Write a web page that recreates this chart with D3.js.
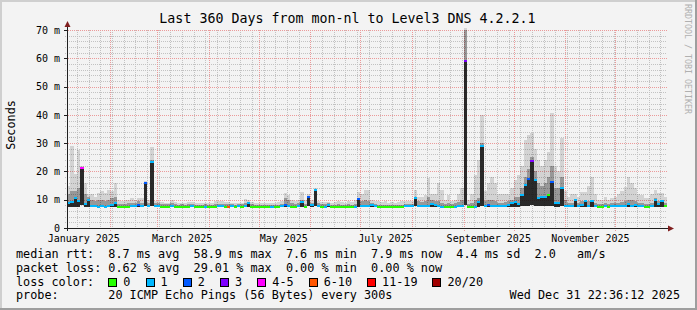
<!DOCTYPE html>
<html>
<head>
<meta charset="utf-8">
<script src="https://cdn.jsdelivr.net/npm/d3@7"></script>
<style>
  body { margin: 0; background: #f3f3f3; }
  svg { display: block; font-family: "DejaVu Sans Mono", monospace; }
  text { white-space: pre; }
</style>
</head>
<body>
<svg width="697" height="310"></svg>
<script>
// graph ends at this moment, covers 360 days, one value per 2 days
const endTime = new Date(Date.UTC(2025, 11, 31, 22, 36, 12));
const spanDays = 360;
const binDays = 2;

// median round trip (ms)
const medianMs = [
  9.0, 9.3, 10.6, 9.5, 21.2, 8.4, 9.8, 7.7, 7.8, 7.6,
  7.7, 7.6, 7.8, 8.0, 9.0, 7.4, 7.4, 7.5, 7.5, 7.7,
  7.7, 8.3, 7.8, 16.0, 7.8, 23.3, 7.7, 7.7, 7.5, 7.5,
  7.5, 7.7, 7.5, 7.5, 7.5, 7.5, 7.5, 7.7, 7.5, 7.5,
  7.5, 7.6, 7.5, 7.5, 7.5, 7.7, 7.7, 7.6, 7.6, 7.7,
  7.5, 7.7, 7.5, 7.8, 9.0, 7.5, 7.5, 7.5, 7.5, 7.5,
  7.5, 7.6, 7.5, 7.5, 7.7, 8.0, 7.8, 7.6, 7.5, 7.7,
  9.3, 7.6, 11.0, 8.0, 13.4, 7.7, 7.5, 7.6, 8.3, 7.5,
  7.5, 7.5, 7.5, 7.5, 7.5, 7.5, 7.6, 10.4, 7.8, 7.8,
  7.7, 8.1, 7.7, 7.5, 7.5, 7.5, 7.5, 7.5, 7.5, 7.5,
  7.5, 7.7, 7.7, 7.7, 10.5, 7.7, 7.7, 7.8, 7.9, 8.5,
  8.2, 7.8, 7.6, 7.5, 7.5, 7.5, 7.6, 7.7, 7.8, 58.9,
  7.5, 7.5, 7.6, 9.2, 29.0, 7.7, 8.0, 7.8, 7.7, 7.7,
  7.7, 7.8, 8.2, 8.8, 9.3, 8.5, 11.7, 15.2, 17.4, 23.7,
  17.0, 10.6, 10.8, 11.0, 11.7, 16.4, 8.8, 8.8, 14.0, 7.8,
  7.8, 7.7, 9.9, 7.7, 8.0, 9.6, 7.8, 9.5, 7.7, 7.5,
  7.5, 7.7, 7.5, 7.7, 7.7, 7.7, 7.8, 7.7, 8.5, 7.8,
  8.2, 7.7, 7.7, 7.5, 7.5, 7.7, 9.9, 8.5, 9.5, 7.8
];

// lost pings out of 20
const lossCount = [
  1, 1, 1, 1, 5, 1, 1, 1, 1, 1,
  1, 1, 1, 1, 1, 0, 0, 0, 0, 1,
  1, 2, 1, 2, 1, 1, 1, 1, 0, 0,
  0, 1, 0, 0, 0, 0, 0, 1, 0, 0,
  0, 1, 0, 0, 0, 1, 1, 0, 7, 1,
  0, 1, 0, 1, 1, 0, 0, 0, 0, 0,
  0, 1, 0, 0, 1, 2, 1, 0, 0, 1,
  1, 0, 2, 1, 1, 1, 0, 1, 1, 0,
  0, 0, 0, 0, 0, 0, 1, 2, 1, 1,
  1, 1, 1, 0, 0, 0, 0, 0, 0, 0,
  0, 1, 1, 1, 1, 1, 1, 1, 1, 1,
  1, 1, 1, 0, 0, 0, 1, 1, 1, 3,
  0, 0, 1, 1, 1, 1, 2, 1, 1, 1,
  1, 1, 1, 1, 1, 1, 1, 1, 2, 3,
  1, 1, 1, 1, 0, 2, 1, 1, 1, 1,
  1, 1, 1, 1, 1, 1, 1, 1, 1, 0,
  0, 1, 0, 1, 1, 1, 1, 1, 1, 1,
  1, 1, 1, 0, 0, 1, 1, 1, 1, 0
];

// fastest ping (ms)
const pingMin = [
  7.5, 7.5, 7.6, 7.6, 8.0, 7.4, 7.5, 7.3, 7.3, 7.3,
  7.3, 7.3, 7.3, 7.4, 7.5, 7.2, 7.2, 7.3, 7.3, 7.3,
  7.3, 7.5, 7.4, 7.8, 7.4, 7.8, 7.3, 7.3, 7.3, 7.3,
  7.3, 7.3, 7.3, 7.3, 7.3, 7.3, 7.3, 7.3, 7.3, 7.3,
  7.3, 7.3, 7.3, 7.3, 7.3, 7.3, 7.3, 7.3, 7.3, 7.3,
  7.3, 7.3, 7.3, 7.4, 7.5, 7.3, 7.3, 7.3, 7.3, 7.3,
  7.3, 7.3, 7.3, 7.3, 7.3, 7.5, 7.4, 7.3, 7.3, 7.3,
  7.5, 7.3, 7.7, 7.5, 7.8, 7.3, 7.3, 7.3, 7.5, 7.3,
  7.3, 7.3, 7.3, 7.3, 7.3, 7.3, 7.3, 7.6, 7.4, 7.4,
  7.4, 7.5, 7.3, 7.3, 7.3, 7.3, 7.3, 7.3, 7.3, 7.3,
  7.3, 7.3, 7.3, 7.3, 7.7, 7.4, 7.4, 7.4, 7.5, 7.6,
  7.5, 7.4, 7.3, 7.3, 7.3, 7.3, 7.3, 7.4, 7.5, 8.0,
  7.3, 7.3, 7.4, 7.5, 7.8, 7.4, 7.5, 7.4, 7.4, 7.4,
  7.4, 7.4, 7.5, 7.6, 7.6, 7.6, 7.7, 7.8, 7.9, 8.0,
  7.9, 7.8, 7.8, 7.8, 7.8, 7.9, 7.6, 7.6, 7.8, 7.4,
  7.4, 7.4, 7.5, 7.4, 7.4, 7.5, 7.4, 7.5, 7.4, 7.3,
  7.3, 7.3, 7.3, 7.3, 7.3, 7.4, 7.4, 7.4, 7.5, 7.4,
  7.4, 7.3, 7.3, 7.3, 7.3, 7.4, 7.6, 7.5, 7.6, 7.4
];

// upper edge of the dense smoke (ms)
const smokeMid = [
  12, 13, 13, 14, 21.5, 12, 11, 10, 9.5, 10,
  10, 9.5, 10, 10.5, 11, 8.5, 8.5, 8.5, 8.8, 9,
  9, 9.5, 9, 16.2, 9, 24, 8.8, 8.8, 8.5, 8.5,
  8.4, 8.8, 8.4, 8.3, 8.4, 8.3, 8.4, 8.6, 8.3, 8.3,
  8.3, 8.4, 8.3, 8.3, 8.5, 8.6, 8.6, 8.5, 8.5, 8.4,
  8.3, 8.5, 8.4, 8.8, 9.3, 8.4, 8.3, 8.3, 8.2, 8.2,
  8.2, 8.3, 8.2, 8.3, 8.6, 10.5, 10, 9, 8.5, 8.8,
  9.8, 8.5, 11.3, 9, 13.6, 8.8, 8.4, 8.5, 8.8, 8.3,
  8.3, 8.4, 8.3, 8.3, 8.4, 8.3, 8.6, 10.6, 9.5, 10,
  9.5, 9, 8.6, 8.3, 8.3, 8.3, 8.2, 8.3, 8.2, 8.3,
  8.3, 8.5, 8.6, 8.6, 10.8, 9.5, 9.2, 9.4, 11, 10,
  9.6, 9.5, 9, 8.6, 8.8, 8.5, 8.8, 9.2, 10, 70,
  8.5, 9, 10, 10.5, 30, 9.5, 10, 10, 9.5, 9,
  9, 9.2, 9.5, 10, 11, 11, 14, 18, 21, 25,
  20, 16, 15, 16, 18, 22, 14, 14, 18, 10,
  9, 9, 10.2, 9, 9.5, 10, 9.5, 10, 9, 8.5,
  8.5, 8.8, 8.5, 8.7, 8.8, 9, 9.2, 9.5, 10, 9.8,
  9.5, 9, 9, 8.6, 8.6, 9, 10.5, 9.5, 10, 9
];

// slowest ping (ms), top of the light smoke
const smokeMax = [
  15, 29, 19, 27.5, 22, 16, 12, 12, 11, 12.5,
  13, 12.5, 13.5, 13, 16, 10, 9.5, 10, 9.8, 10.5,
  10, 10.5, 10.5, 16.5, 10, 28.6, 9.5, 9.5, 9.2, 9,
  9, 9.8, 9.2, 8.8, 9, 8.8, 9.2, 9.3, 8.8, 8.8,
  9, 9, 8.8, 8.8, 9.6, 9.6, 9.4, 9.2, 9.2, 9,
  8.8, 9, 9, 10.2, 9.8, 9.2, 9, 9, 8.8, 8.8,
  8.8, 9, 8.8, 9.2, 9.6, 12.2, 11.5, 10, 9.5, 10,
  12.8, 9.8, 12, 10, 14, 9.6, 9.2, 9.2, 9.3, 9,
  9.2, 9.6, 9.2, 9, 9.4, 9.2, 9.8, 12.8, 12, 13.4,
  13.4, 10, 9.6, 9.4, 9.2, 9.4, 9, 9.2, 9, 9.2,
  9.4, 9.4, 9.6, 9.6, 13.4, 11, 11, 11.5, 17.7, 12,
  12, 15.9, 13.4, 10, 11.5, 9.6, 10, 12, 14, 72,
  10, 12, 18.7, 24, 40, 13, 16, 18, 16, 12,
  12, 12, 12, 14, 17, 18.7, 22, 31, 33, 33.5,
  28, 24, 22, 24, 27, 40.6, 22, 20, 31.7, 13,
  11, 12, 12, 11, 12.7, 12.7, 15, 18, 12, 10,
  10, 11, 10, 10.5, 11, 12, 13, 14.5, 18, 16,
  14, 12, 11.5, 10.5, 10.5, 12, 13.4, 12.5, 12.5, 11
];

const lossLabels = ["0", "1", "2", "3", "4-5", "6-10", "11-19", "20/20"];
const lossUpper = [0, 1, 2, 3, 5, 10, 19, 20];
const lossColors = ["#26ff00", "#00b8ff", "#0059ff", "#7e00ff", "#ff00ff", "#ff5500", "#ff0000", "#a00000"];

const yTicks = [0, 10, 20, 30, 40, 50, 60, 70];

const title = "Last 360 Days from mon-nl to Level3 DNS 4.2.2.1";
const rttLine = "median rtt:  8.7 ms avg  58.9 ms max  7.6 ms min  7.9 ms now  4.4 ms sd  2.0   am/s";
const lossLine = "packet loss: 0.62 % avg  29.01 % max  0.00 % min  0.00 % now";
const probeText = "20 ICMP Echo Pings (56 Bytes) every 300s";
const stampText = "Wed Dec 31 22:36:12 2025";

const svg = d3.select("svg");
const W = 697, H = 310;
const plotL = 67, plotR = 667, plotT = 30, plotB = 228;
const charW = 7.1;

const startTime = d3.utcDay.offset(endTime, -spanDays);
const x = d3.scaleUtc().domain([startTime, endTime]).range([plotL, plotR]);
const y = d3.scaleLinear().domain([0, 70]).range([plotB, plotT]);

// frame
svg.append("rect").attr("width", W).attr("height", H).attr("fill", "#f3f3f3");
svg.append("rect").attr("x", 0).attr("y", 0).attr("width", W).attr("height", 2).attr("fill", "#cfcfcf");
svg.append("rect").attr("x", 0).attr("y", 0).attr("width", 2).attr("height", H).attr("fill", "#cfcfcf");
svg.append("rect").attr("x", 0).attr("y", H - 2).attr("width", W).attr("height", 2).attr("fill", "#9e9e9e");
svg.append("rect").attr("x", W - 2).attr("y", 0).attr("width", 2).attr("height", H).attr("fill", "#9e9e9e");

// grid
const grid = svg.append("g").attr("shape-rendering", "crispEdges").attr("stroke-dasharray", "1,1");
const minorY = y.ticks(35).filter(v => v % 10 !== 0);
const weeks = d3.utcSunday.range(startTime, endTime);
const months = d3.utcMonth.range(startTime, endTime);

grid.selectAll(".hmin").data(minorY).join("line")
  .attr("x1", plotL - 2).attr("x2", plotR)
  .attr("y1", d => Math.round(y(d)) + 0.5).attr("y2", d => Math.round(y(d)) + 0.5)
  .attr("stroke", "#c2c2c2");
grid.selectAll(".vmin").data(weeks).join("line")
  .attr("x1", d => Math.round(x(d)) + 0.5).attr("x2", d => Math.round(x(d)) + 0.5)
  .attr("y1", plotT).attr("y2", plotB + 2)
  .attr("stroke", "#c2c2c2");
grid.selectAll(".hmaj").data(yTicks.slice(1)).join("line")
  .attr("x1", plotL - 3).attr("x2", plotR)
  .attr("y1", d => Math.round(y(d)) + 0.5).attr("y2", d => Math.round(y(d)) + 0.5)
  .attr("stroke", "#eb9a9a");
grid.selectAll(".vmaj").data(months).join("line")
  .attr("x1", d => Math.round(x(d)) + 0.5).attr("x2", d => Math.round(x(d)) + 0.5)
  .attr("y1", plotT).attr("y2", plotB + 3)
  .attr("stroke", "#eb9a9a");

// bins
const bins = medianMs.map((m, i) => ({
  t0: d3.utcDay.offset(startTime, i * binDays),
  t1: d3.utcDay.offset(startTime, (i + 1) * binDays),
  med: m, loss: lossCount[i], lo: pingMin[i], mid: smokeMid[i], hi: smokeMax[i]
}));

const plot = svg.append("g").attr("shape-rendering", "crispEdges");
plot.append("clipPath").attr("id", "clip").append("rect")
  .attr("x", plotL).attr("y", plotT - 2).attr("width", plotR - plotL).attr("height", plotB - plotT + 2);
const smoke = plot.append("g").attr("clip-path", "url(#clip)");

const bx = d => x(d.t0), bw = d => x(d.t1) - x(d.t0);

smoke.selectAll(".light").data(bins).join("rect")
  .attr("x", bx).attr("width", bw)
  .attr("y", d => y(d.hi)).attr("height", d => y(d.lo) - y(d.hi))
  .attr("fill", "rgba(0,0,0,0.13)");
smoke.selectAll(".mid").data(bins).join("rect")
  .attr("x", bx).attr("width", bw)
  .attr("y", d => y(d.mid)).attr("height", d => y(d.lo) - y(d.mid))
  .attr("fill", "rgba(0,0,0,0.28)");
smoke.selectAll(".dark").data(bins).join("rect")
  .attr("x", bx).attr("width", bw)
  .attr("y", d => y(d.med)).attr("height", d => y(d.lo) - y(d.med))
  .attr("fill", "rgba(15,15,15,0.8)");

const lossColor = n => lossColors[lossUpper.findIndex(u => n <= u)];

smoke.selectAll(".median").data(bins).join("line")
  .attr("x1", bx).attr("x2", d => x(d.t1))
  .attr("y1", d => y(d.med)).attr("y2", d => y(d.med))
  .attr("stroke", d => lossColor(d.loss))
  .attr("stroke-width", 2);

// y axis labels and ticks
svg.append("g")
  .attr("transform", `translate(${plotL},0)`)
  .call(d3.axisLeft(y).tickValues(yTicks).tickSize(3).tickPadding(4)
    .tickFormat(d => d === 0 ? "0" : d + " m"))
  .call(g => g.select(".domain").remove())
  .call(g => g.selectAll("line").attr("stroke", "#1f1f1f").attr("shape-rendering", "crispEdges"))
  .call(g => g.selectAll("text").attr("font-family", "DejaVu Sans Mono").attr("font-size", 10).attr("fill", "#000"));

// x labels: every second month, centred half a month after its start
const labelMonths = d3.utcMonth.range(d3.utcMonth.floor(startTime), endTime, 2);
svg.append("g").selectAll("text").data(labelMonths).join("text")
  .attr("x", d => x(d3.utcDay.offset(d, 15)))
  .attr("y", 241.5)
  .attr("text-anchor", "middle")
  .attr("font-size", 10)
  .text(d => d3.utcFormat("%B %Y")(d));

// axes with arrows
const axis = svg.append("g");
axis.append("line").attr("x1", plotL - 3).attr("x2", plotR + 3)
  .attr("y1", plotB + 0.5).attr("y2", plotB + 0.5).attr("stroke", "#1f1f1f");
axis.append("line").attr("x1", plotL + 0.5).attr("x2", plotL + 0.5)
  .attr("y1", plotB + 3).attr("y2", plotT - 5).attr("stroke", "#1f1f1f");
axis.append("path").attr("d", `M${plotR + 7},${plotB + 0.5} L${plotR + 1},${plotB - 2.5} L${plotR + 1},${plotB + 3.5} Z`)
  .attr("fill", "#801f1f");
axis.append("path").attr("d", `M${plotL + 0.5},${plotT - 9} L${plotL - 2.5},${plotT - 3} L${plotL + 3.5},${plotT - 3} Z`)
  .attr("fill", "#801f1f");

// title, vertical label, watermark
svg.append("text").attr("x", 347.5).attr("y", 23).attr("text-anchor", "middle")
  .attr("font-size", 13.3).text(title);
svg.append("text").attr("transform", "translate(14.5,125) rotate(-90)")
  .attr("text-anchor", "middle").attr("font-size", 11.8).text("Seconds");
svg.append("text").attr("transform", "translate(685,59) rotate(90)")
  .attr("text-anchor", "middle").attr("font-size", 8.3).attr("fill", "#b0b0b0")
  .text("RRDTOOL / TOBI OETIKER");

// legend
const legend = svg.append("g").attr("font-size", 11.8);
legend.append("text").attr("x", 16).attr("y", 258).text(rttLine);
legend.append("text").attr("x", 16).attr("y", 271.8).text(lossLine);
legend.append("text").attr("x", 16).attr("y", 285.6).text("loss color:");
legend.append("text").attr("x", 16).attr("y", 299.4).text("probe:");
legend.append("text").attr("x", 16 + 13 * charW).attr("y", 299.4).text(probeText);
legend.append("text").attr("x", 680).attr("y", 299.4).attr("text-anchor", "end").text(stampText);

let keyX = 16 + 13 * charW;
const keys = lossLabels.map((lab, i) => {
  const k = { lab, color: lossColors[i], x: keyX };
  keyX += 30.2 + lab.length * 7.05;
  return k;
});
const keyG = legend.selectAll(".key").data(keys).join("g");
keyG.append("rect")
  .attr("x", d => Math.round(d.x) + 0.5).attr("y", 278.5)
  .attr("width", 8).attr("height", 8)
  .attr("fill", d => d.color).attr("stroke", "#000")
  .attr("shape-rendering", "crispEdges");
keyG.append("text").attr("x", d => d.x + 15).attr("y", 285.6).text(d => d.lab);
</script>
</body>
</html>
